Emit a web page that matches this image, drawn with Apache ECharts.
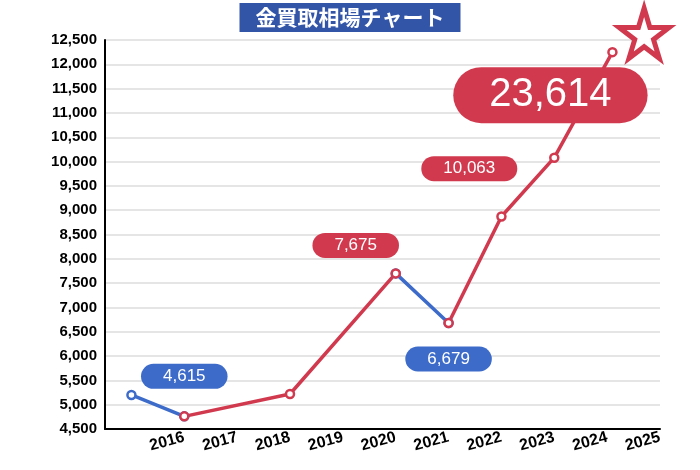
<!DOCTYPE html><html><head><meta charset="utf-8"><script src="https://cdn.jsdelivr.net/npm/echarts@6/dist/echarts.min.js"></script></head><body style="margin:0"><div id="c" style="width:700px;height:470px"></div><script>
const years=[2015,2016,2017,2018,2019,2020,2021,2022,2023,2024,2025];
const redPts=[[2016,4760],[2018,5220],[2020,7700],null,[2021,6680],[2022,8870],[2023,10080],[2024.1,12250]];
const bluePts=[[2015,5200],[2016,4760],null,[2020,7700],[2021,6680]];
const callouts=[
 {x:2016,y:4760,text:'4,615',color:'#3d6bc9',off:[0,-40],size:17},
 {x:2020,y:7700,text:'7,675',color:'#d13a4e',off:[-40,-28],size:17},
 {x:2021,y:6680,text:'6,679',color:'#3d6bc9',off:[0,36],size:17},
 {x:2023,y:10080,text:'10,063',color:'#d13a4e',off:[-85,11],size:17},
 {x:2024.1,y:12250,text:'23,614',color:'#d13a4e',off:[-62,43],size:40}
];
const star=[[2024.7,12640]];
const F='Liberation Sans, Arial, sans-serif';
const chart=echarts.init(document.getElementById('c'));
chart.setOption({
 animation:false,
 title:{text:'金買取相場チャート',left:'center',top:3,backgroundColor:'#3355a8',padding:[4,16],
  textStyle:{color:'#fff',fontSize:21,fontWeight:'bold',fontFamily:'Noto Sans CJK JP'}},
 grid:{left:105,right:40,top:40,bottom:41},
 xAxis:{type:'value',min:2014.5,max:2025,
  axisLine:{lineStyle:{color:'#000',width:2}},axisTick:{show:false},splitLine:{show:false},
  axisLabel:{customValues:years,rotate:15,color:'#000',fontSize:16,fontWeight:'bold',fontFamily:F,margin:8,
   showMinLabel:false,formatter:v=>String(Math.round(v))}},
 yAxis:{type:'value',min:4500,max:12500,interval:500,
  axisLine:{show:true,lineStyle:{color:'#000',width:2}},axisTick:{show:false},
  splitLine:{lineStyle:{color:'#ddd',width:1.5}},
  axisLabel:{color:'#000',fontSize:15,fontWeight:'bold',fontFamily:F,formatter:v=>v.toLocaleString('en-US')}},
 series:[
  {type:'line',data:bluePts,connectNulls:false,symbol:'circle',symbolSize:8,
   lineStyle:{color:'#3d6bc9',width:3.5},itemStyle:{color:'#fff',borderColor:'#3d6bc9',borderWidth:2.5}},
  {type:'line',data:redPts,connectNulls:false,symbol:'circle',symbolSize:8,z:3,
   lineStyle:{color:'#d13a4e',width:3.5},itemStyle:{color:'#fff',borderColor:'#d13a4e',borderWidth:2.5}},
  {type:'scatter',data:callouts.map(c=>({value:[c.x,c.y],label:{show:true,formatter:c.text,offset:c.off,
    backgroundColor:c.color,color:'#fff',fontSize:c.size,fontFamily:F,opacity:1,
    padding:c.size>30?[8,36]:[4,22],borderRadius:c.size>30?[105,105,105,105]:[20,20,20,20]}})),
   symbolSize:0,z:5,itemStyle:{opacity:1},label:{position:'inside'}},
  {type:'scatter',data:star,clip:false,symbol:'path://M50,0 L61,35 L98,35 L68,57 L79,91 L50,70 L21,91 L32,57 L2,35 L39,35 Z',
   symbolSize:50,itemStyle:{color:'#fff',borderColor:'#d13a4e',borderWidth:5,opacity:1}}
 ]
});
</script></body></html>
